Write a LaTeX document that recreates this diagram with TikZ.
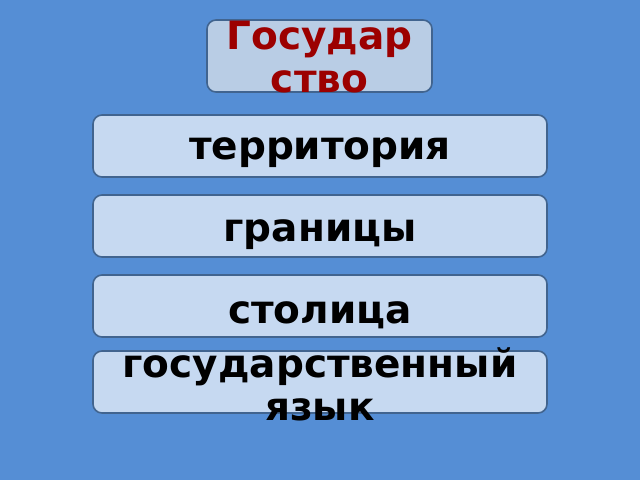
\documentclass[tikz,border=0pt]{standalone}
\usepackage{fontspec}
\setmainfont{DejaVu Sans}
\begin{document}
\begin{tikzpicture}[x=1pt,y=-1pt,
  bx/.style={draw=boxline,line width=1.6pt,rounded corners=9pt,fill=boxfill},
  lbl/.style={font=\bfseries\fontsize{39}{43}\selectfont,align=center,inner sep=0pt,anchor=base}]
\definecolor{bg}{HTML}{558ED5}
\definecolor{boxfill}{HTML}{C6D9F1}
\definecolor{topfill}{HTML}{B9CDE5}
\definecolor{boxline}{HTML}{41648F}
\definecolor{darkred}{HTML}{9C0000}
\fill[bg] (0,0) rectangle (640,480);
\useasboundingbox (0,0) rectangle (640,480);
\draw[bx,fill=topfill] (207,20) rectangle (432,92);
\node[lbl,text=darkred] (title) at (319.5,92) {Государ\\ство};
\draw[bx] (93,115) rectangle (547,177);
\node[lbl] (t1) at (320,159) {территория};
\draw[bx] (93,195) rectangle (547,257);
\node[lbl] (t2) at (320,241.5) {границы};
\draw[bx] (93,275) rectangle (547,337);
\node[lbl] (t3) at (320,323) {столица};
\draw[bx] (93,351) rectangle (547,413);
\node[lbl] (t4) at (320,420) {государственный\\язык};
\end{tikzpicture}
\end{document}
